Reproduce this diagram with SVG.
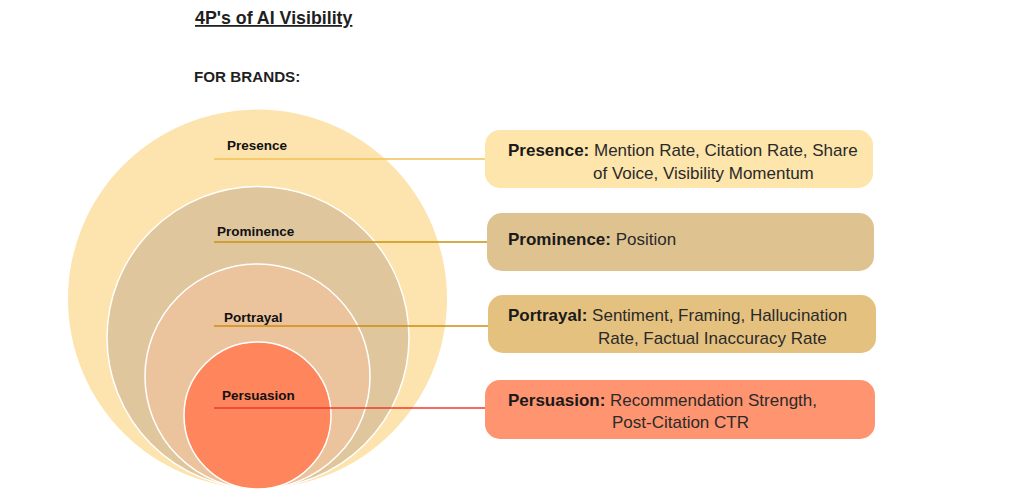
<svg xmlns="http://www.w3.org/2000/svg" width="1024" height="498" viewBox="0 0 1024 498">
<style>
.ttl{font-family:"Liberation Sans",Arial,sans-serif;font-weight:bold;fill:#1f1f1f}
.lbl{font-family:"Liberation Sans",Arial,sans-serif;font-weight:bold;font-size:13.5px;fill:#111}
.bx{font-family:"Liberation Sans",Arial,sans-serif;font-size:17px;fill:#2a2a2a}
.bx .b{font-weight:bold;fill:#1a1a1a;font-size:17px}
.ring{stroke:#ffffff;stroke-width:1.5}
.box{stroke:none}
</style>
<rect width="1024" height="498" fill="#ffffff"/>
<g id="title">
<text class="ttl" x="195" y="24" font-size="17.8" text-decoration="underline">4P's of AI Visibility</text>
<text class="ttl" x="194" y="82" font-size="15.2">FOR BRANDS:</text>
</g>
<g id="circles">
<circle id="c-presence" cx="257.5" cy="299" r="189.5" fill="#FDE3AD"/>
<circle id="c-prominence" class="ring" cx="258" cy="337.5" r="151" fill="#E0C69D"/>
<circle id="c-portrayal" class="ring" cx="257.5" cy="376.5" r="112.5" fill="#EBC39C"/>
<circle id="c-persuasion" class="ring" cx="257.5" cy="415.5" r="73.5" fill="#FF865C"/>
</g>
<g id="connectors">
<line x1="214" y1="159" x2="486" y2="159" stroke="#F0C255" stroke-width="1.5"/>
<line x1="214" y1="242" x2="488" y2="242" stroke="#C8920F" stroke-width="1.5"/>
<line x1="214" y1="326" x2="489" y2="326" stroke="#D08B0C" stroke-width="1.5"/>
<line x1="214" y1="408" x2="486" y2="408" stroke="#EE3B2B" stroke-width="1.5"/>
</g>
<g id="circle-labels">
<text class="lbl" x="227" y="150">Presence</text>
<text class="lbl" x="217" y="236">Prominence</text>
<text class="lbl" x="224" y="322">Portrayal</text>
<text class="lbl" x="222" y="400">Persuasion</text>
</g>
<g id="box-presence">
<rect class="box" x="485" y="130" width="388" height="58" rx="15" fill="#FDE5AB"/>
<text class="bx" x="508" y="156"><tspan class="b">Presence:</tspan> Mention Rate, Citation Rate, Share</text>
<text class="bx" x="593" y="179">of Voice, Visibility Momentum</text>
</g>
<g id="box-prominence">
<rect class="box" x="487" y="213" width="387" height="58" rx="15" fill="#DEC391"/>
<text class="bx" x="508" y="245"><tspan class="b">Prominence:</tspan> Position</text>
</g>
<g id="box-portrayal">
<rect class="box" x="488" y="295" width="388" height="58" rx="15" fill="#E5C17F"/>
<text class="bx" x="508" y="321"><tspan class="b">Portrayal:</tspan> Sentiment, Framing, Hallucination</text>
<text class="bx" x="598" y="344">Rate, Factual Inaccuracy Rate</text>
</g>
<g id="box-persuasion">
<rect class="box" x="485" y="380" width="390" height="59" rx="15" fill="#FF9470"/>
<text class="bx" x="508" y="406"><tspan class="b">Persuasion:</tspan> Recommendation Strength,</text>
<text class="bx" x="612" y="428">Post-Citation CTR</text>
</g>
</svg>
